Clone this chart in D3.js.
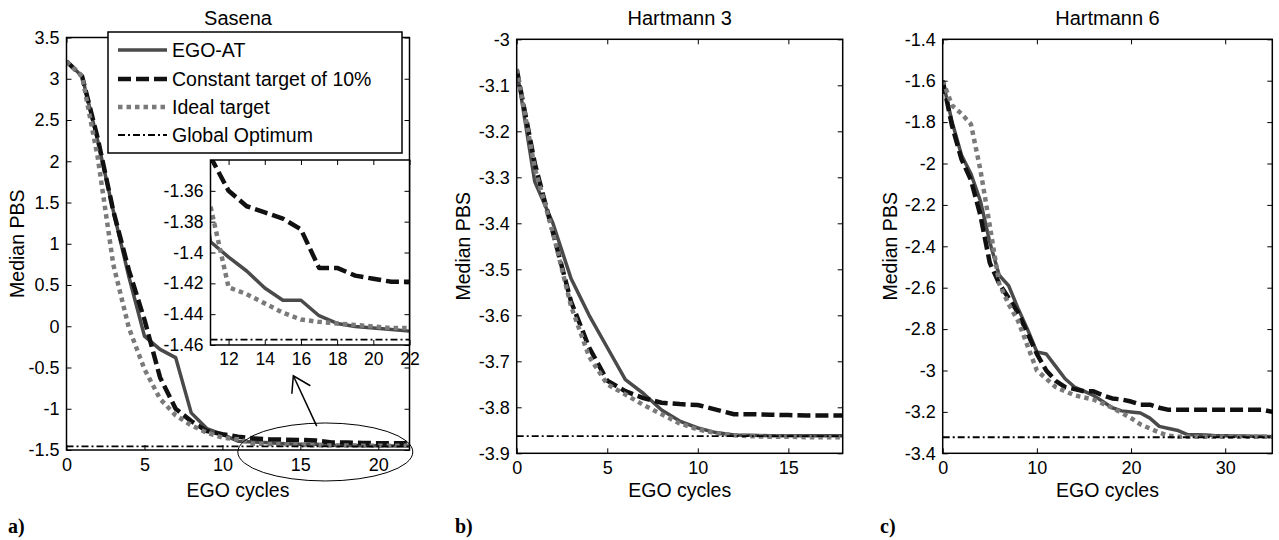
<!DOCTYPE html>
<html>
<head>
<meta charset="utf-8">
<script src="https://cdn.jsdelivr.net/npm/d3@7"></script>
<style>
  body { margin: 0; background: #fff; }
  svg { display: block; font-family: "Liberation Sans", Arial, Helvetica, sans-serif; }
</style>
</head>
<body>
<svg id="fig" width="1279" height="540"></svg>
<script>
// ---- data ----
var seriesNames = ["EGO-AT", "Constant target of 10%", "Ideal target", "Global Optimum"];

// a) Sasena
var sasenaCycles = [0,1,2,3,4,5,6,7,8,9,10,11,12,13,14,15,16,17,18,19,20,21,22];
var sasenaEgoAt = [3.21,3.03,2.25,1.40,0.60,-0.12,-0.28,-0.38,-1.05,-1.24,-1.31,-1.393,-1.403,-1.412,-1.423,-1.431,-1.431,-1.441,-1.446,-1.448,-1.449,-1.450,-1.451];
var sasenaConst = [3.21,3.03,2.28,1.40,0.68,0.08,-0.62,-1.00,-1.15,-1.27,-1.31,-1.338,-1.360,-1.370,-1.374,-1.378,-1.385,-1.410,-1.410,-1.415,-1.417,-1.419,-1.419];
var sasenaIdeal = [3.21,3.03,2.05,0.75,-0.02,-0.52,-0.88,-1.08,-1.20,-1.29,-1.35,-1.370,-1.4226,-1.427,-1.433,-1.439,-1.4435,-1.445,-1.446,-1.447,-1.448,-1.449,-1.449];
var sasenaOpt = -1.4565;
var sasenaXTicks = [0,5,10,15,20];
var sasenaYTicks = [-1.5,-1,-0.5,0,0.5,1,1.5,2,2.5,3,3.5];
var insetXTicks = [12,14,16,18,20,22];
var insetYTicks = [-1.46,-1.44,-1.42,-1.40,-1.38,-1.36];

// b) Hartmann 3
var h3Cycles = [0,1,2,3,4,5,6,7,8,9,10,11,12,13,14,15,16,17,18];
var h3EgoAt = [-3.065,-3.31,-3.40,-3.52,-3.60,-3.67,-3.74,-3.77,-3.806,-3.83,-3.845,-3.855,-3.86,-3.861,-3.862,-3.862,-3.862,-3.862,-3.862];
var h3Const = [-3.065,-3.27,-3.42,-3.57,-3.67,-3.742,-3.765,-3.78,-3.79,-3.793,-3.795,-3.805,-3.815,-3.815,-3.816,-3.817,-3.818,-3.818,-3.818];
var h3Ideal = [-3.065,-3.28,-3.42,-3.58,-3.69,-3.75,-3.772,-3.795,-3.815,-3.835,-3.848,-3.856,-3.861,-3.863,-3.864,-3.864,-3.865,-3.865,-3.865];
var h3Opt = -3.8628;
var h3XTicks = [0,5,10,15];
var h3YTicks = [-3.9,-3.8,-3.7,-3.6,-3.5,-3.4,-3.3,-3.2,-3.1,-3];

// c) Hartmann 6
var h6Cycles = [0,1,2,3,4,5,6,7,8,9,10,11,12,13,14,15,16,17,18,19,20,21,22,23,24,25,26,27,28,29,30,31,32,33,34,35];
var h6EgoAt = [-1.60,-1.80,-1.96,-2.05,-2.18,-2.38,-2.54,-2.59,-2.70,-2.80,-2.91,-2.92,-2.98,-3.04,-3.08,-3.10,-3.12,-3.15,-3.18,-3.195,-3.20,-3.205,-3.23,-3.27,-3.28,-3.29,-3.31,-3.31,-3.312,-3.315,-3.315,-3.316,-3.317,-3.318,-3.318,-3.32];
var h6Const = [-1.60,-1.82,-1.98,-2.08,-2.25,-2.48,-2.58,-2.65,-2.72,-2.82,-2.92,-3.00,-3.05,-3.08,-3.09,-3.10,-3.10,-3.12,-3.135,-3.14,-3.15,-3.165,-3.165,-3.18,-3.19,-3.19,-3.19,-3.19,-3.19,-3.19,-3.19,-3.19,-3.19,-3.19,-3.19,-3.20];
var h6Ideal = [-1.60,-1.72,-1.76,-1.81,-2.03,-2.30,-2.58,-2.68,-2.76,-2.88,-3.00,-3.04,-3.08,-3.10,-3.12,-3.13,-3.14,-3.16,-3.18,-3.205,-3.23,-3.26,-3.28,-3.30,-3.315,-3.32,-3.32,-3.32,-3.32,-3.32,-3.32,-3.32,-3.32,-3.32,-3.32,-3.32];
var h6Opt = -3.3224;
var h6XTicks = [0,10,20,30];
var h6YTicks = [-3.4,-3.2,-3,-2.8,-2.6,-2.4,-2.2,-2,-1.8,-1.6,-1.4];

// ---- line styles ----
var styles = [
  { stroke: "#4a4a4a", width: 3.5, dash: null },
  { stroke: "#111111", width: 4.5, dash: "13,5" },
  { stroke: "#7a7a7a", width: 4.5, dash: "4.5,4" },
  { stroke: "#000000", width: 1.8, dash: "7,3,2,3" }
];

var svg = d3.select("#fig");
var fmt = function(d) { return String(+d.toFixed(2)); };
var clipId = 0;

function makeAxes(g, x, y, xTicks, yTicks, fontSize, labels) {
  var b = y.range()[0], t = y.range()[1], l = x.range()[0], r = x.range()[1];
  function style(sel) {
    sel.select(".domain").remove();
    sel.selectAll("line").attr("stroke", "#000").attr("stroke-width", 1);
    sel.selectAll("text").style("font-size", fontSize + "px").attr("fill", "#000")
      .style("font-family", "\"Liberation Sans\", Arial, Helvetica, sans-serif");
  }
  g.append("g").attr("transform", "translate(0," + b + ")")
    .call(d3.axisBottom(x).tickValues(xTicks).tickSizeInner(-5).tickSizeOuter(0).tickPadding(8)
      .tickFormat(labels ? fmt : ""))
    .call(style);
  g.append("g").attr("transform", "translate(0," + t + ")")
    .call(d3.axisTop(x).tickValues(xTicks).tickSizeInner(-5).tickSizeOuter(0).tickFormat(""))
    .call(style);
  g.append("g").attr("transform", "translate(" + l + ",0)")
    .call(d3.axisLeft(y).tickValues(yTicks).tickSizeInner(-5).tickSizeOuter(0).tickPadding(7)
      .tickFormat(labels ? fmt : ""))
    .call(style);
  g.append("g").attr("transform", "translate(" + r + ",0)")
    .call(d3.axisRight(y).tickValues(yTicks).tickSizeInner(-5).tickSizeOuter(0).tickFormat(""))
    .call(style);
  g.append("rect")
    .attr("x", l).attr("y", t).attr("width", r - l).attr("height", b - t)
    .attr("fill", "none").attr("stroke", "#000").attr("stroke-width", 1.5);
}

function drawSeries(g, x, y, cycles, seriesList, opt) {
  var id = "clip" + (clipId++);
  g.append("clipPath").attr("id", id).append("rect")
    .attr("x", x.range()[0]).attr("y", y.range()[1])
    .attr("width", x.range()[1] - x.range()[0]).attr("height", y.range()[0] - y.range()[1]);
  var plot = g.append("g").attr("clip-path", "url(#" + id + ")");
  var line = d3.line()
    .x(function(d, i) { return x(cycles[i]); })
    .y(function(d) { return y(d); });
  seriesList.forEach(function(vals, k) {
    var s = styles[k];
    plot.append("path")
      .attr("d", line(vals))
      .attr("fill", "none")
      .attr("stroke", s.stroke)
      .attr("stroke-width", s.width)
      .attr("stroke-dasharray", s.dash)
      .attr("stroke-linejoin", "round");
  });
  var s = styles[3];
  plot.append("line")
    .attr("x1", x.range()[0]).attr("x2", x.range()[1])
    .attr("y1", y(opt)).attr("y2", y(opt))
    .attr("stroke", s.stroke).attr("stroke-width", s.width)
    .attr("stroke-dasharray", s.dash);
}

function drawPanel(cfg) {
  var g = svg.append("g");
  var x = d3.scaleLinear().domain(cfg.xDomain).range([cfg.left, cfg.right]);
  var y = d3.scaleLinear().domain(cfg.yDomain).range([cfg.bottom, cfg.top]);

  drawSeries(g, x, y, cfg.cycles, cfg.series, cfg.opt);
  makeAxes(g, x, y, cfg.xTicks, cfg.yTicks, 18, true);

  var cx = (cfg.left + cfg.right) / 2;
  g.append("text")
    .attr("x", cx).attr("y", 25)
    .attr("text-anchor", "middle")
    .style("font-size", "20px")
    .text(cfg.title);

  g.append("text")
    .attr("x", cx).attr("y", 497)
    .attr("text-anchor", "middle")
    .style("font-size", "19.5px")
    .text("EGO cycles");

  g.append("text")
    .attr("transform", "translate(" + cfg.ylabelX + "," + ((cfg.top + cfg.bottom) / 2) + ") rotate(-90)")
    .attr("text-anchor", "middle")
    .attr("dy", "0.35em")
    .style("font-size", "19.5px")
    .text("Median PBS");

  g.append("text")
    .attr("x", cfg.tagX).attr("y", 533)
    .style("font-family", "\"Liberation Serif\", \"Times New Roman\", serif")
    .style("font-weight", "bold")
    .style("font-size", "20px")
    .text(cfg.tag);

  return { g: g, x: x, y: y };
}

// ---- panel a ----
var pa = drawPanel({
  title: "Sasena", tag: "a)", tagX: 8, ylabelX: 17,
  left: 66.5, right: 409.5, top: 37.5, bottom: 450,
  xDomain: [0, 22], yDomain: [-1.5, 3.5],
  xTicks: sasenaXTicks, yTicks: sasenaYTicks,
  cycles: sasenaCycles, series: [sasenaEgoAt, sasenaConst, sasenaIdeal], opt: sasenaOpt
});

// zoom annotation: ellipse around the tail and arrow to the inset
pa.g.append("ellipse")
  .attr("cx", pa.x(16.6)).attr("cy", pa.y(-1.524))
  .attr("rx", 87.5).attr("ry", 29)
  .attr("fill", "none").attr("stroke", "#000").attr("stroke-width", 1);

var tail = [pa.x(16.05), pa.y(-1.21)];
var tip = [pa.x(14.55), pa.y(-0.60)];
pa.g.append("line")
  .attr("x1", tail[0]).attr("y1", tail[1]).attr("x2", tip[0]).attr("y2", tip[1])
  .attr("stroke", "#000").attr("stroke-width", 1.5);
pa.g.append("path")
  .attr("d", "M" + (tip[0] - 1.5) + "," + (tip[1] + 18) + "L" + tip[0] + "," + tip[1] + "L" + (tip[0] + 17) + "," + (tip[1] + 10))
  .attr("fill", "none").attr("stroke", "#000").attr("stroke-width", 1.5);

// inset
var inset = pa.g.append("g");
var ix = d3.scaleLinear().domain([11, 22]).range([210.5, 409.5]);
var iy = d3.scaleLinear().domain([-1.46, -1.34]).range([345, 160]);
inset.append("rect")
  .attr("x", 210.5).attr("y", 160).attr("width", 199).attr("height", 185)
  .attr("fill", "#fff");
drawSeries(inset, ix, iy, sasenaCycles, [sasenaEgoAt, sasenaConst, sasenaIdeal], sasenaOpt);
makeAxes(inset, ix, iy, insetXTicks, insetYTicks, 17.5, true);

// legend
var legend = pa.g.append("g").attr("transform", "translate(108,32)");
legend.append("rect")
  .attr("width", 294).attr("height", 121)
  .attr("fill", "#fff").attr("stroke", "#000").attr("stroke-width", 1.5);
var rowY = [18, 47, 75, 103];
seriesNames.forEach(function(name, k) {
  var s = styles[k];
  legend.append("line")
    .attr("x1", 10).attr("x2", 59)
    .attr("y1", rowY[k]).attr("y2", rowY[k])
    .attr("stroke", s.stroke).attr("stroke-width", s.width)
    .attr("stroke-dasharray", s.dash);
  legend.append("text")
    .attr("x", 64).attr("y", rowY[k])
    .attr("dy", "0.35em")
    .style("font-size", "19.5px")
    .text(name);
});

// ---- panel b ----
drawPanel({
  title: "Hartmann 3", tag: "b)", tagX: 455, ylabelX: 463,
  left: 516.7, right: 842.7, top: 39.3, bottom: 453.3,
  xDomain: [0, 18], yDomain: [-3.9, -3],
  xTicks: h3XTicks, yTicks: h3YTicks,
  cycles: h3Cycles, series: [h3EgoAt, h3Const, h3Ideal], opt: h3Opt
});

// ---- panel c ----
drawPanel({
  title: "Hartmann 6", tag: "c)", tagX: 880, ylabelX: 890,
  left: 942.7, right: 1272.3, top: 39.3, bottom: 453.3,
  xDomain: [0, 35], yDomain: [-3.4, -1.4],
  xTicks: h6XTicks, yTicks: h6YTicks,
  cycles: h6Cycles, series: [h6EgoAt, h6Const, h6Ideal], opt: h6Opt
});
</script>
</body>
</html>
